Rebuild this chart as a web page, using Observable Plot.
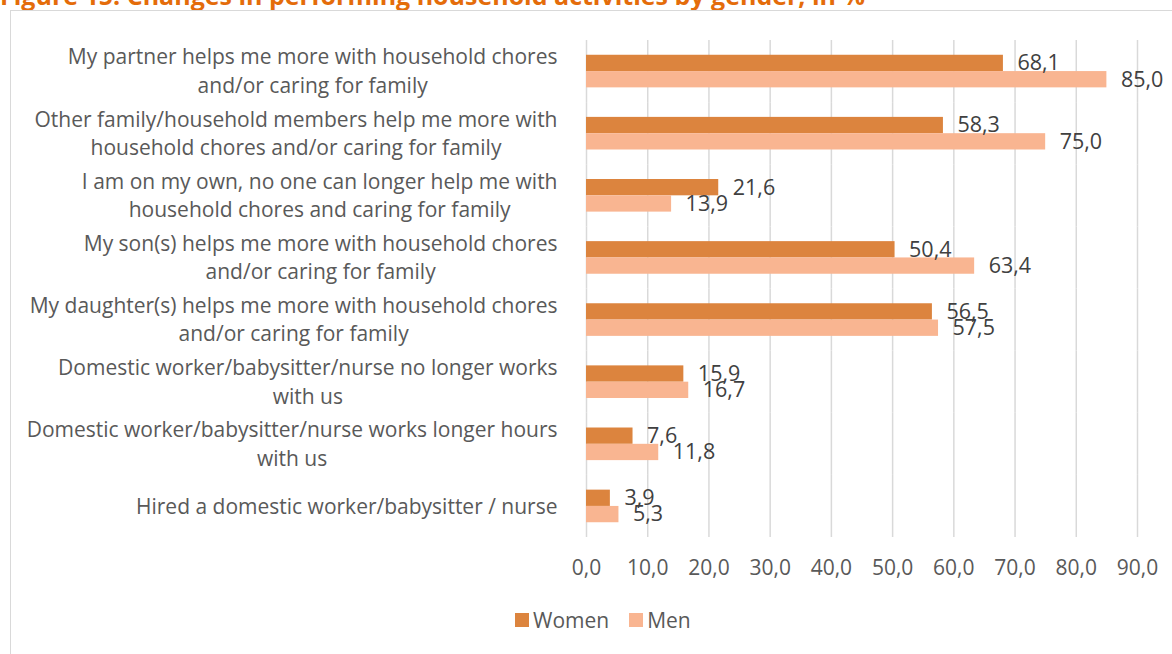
<!DOCTYPE html>
<html>
<head>
<meta charset="utf-8">
<script src="https://cdn.jsdelivr.net/npm/d3@7"></script>
<script src="https://cdn.jsdelivr.net/npm/@observablehq/plot@0.6"></script>
<style>
  html, body { margin: 0; padding: 0; background: #fff; width: 1172px; height: 654px; overflow: hidden; }
  body { position: relative; font-family: 'Open Sans', sans-serif; }
  #title { position: absolute; left: 0; top: -17px; font: bold 25px/25px 'Open Sans', sans-serif; color: #E46C0A; white-space: nowrap; }
  #frame { position: absolute; left: 10px; top: 10px; width: 1300px; height: 800px; border: 1.5px solid #d9d9d9; box-sizing: border-box; }
  #chart { position: absolute; left: 0; top: 0; }
  #legend { position: absolute; left: 515px; top: 606px; }
  #legend .leg-swatches { font-family: 'Open Sans', sans-serif !important; font-size: 21px !important; color: #595959 !important; min-height: 0 !important; margin: 0 !important; }
  #legend .leg-swatch { margin-right: 20px !important; }
  #legend .leg-swatch > svg { margin-right: 4px !important; }
</style>
</head>
<body>
<div id="title">Figure 15: Changes in performing household activities by gender, in %</div>
<div id="frame"></div>
<div id="chart"></div>
<div id="legend"></div>
<script>
const categories = [
  "My partner helps me more with household chores\nand/or caring for family",
  "Other family/household members help me more with\nhousehold chores and/or caring for family",
  "I am on my own, no one can longer help me with\nhousehold chores and caring for family",
  "My son(s) helps me more with household chores\nand/or caring for family",
  "My daughter(s) helps me more with household chores\nand/or caring for family",
  "Domestic worker/babysitter/nurse no longer works\nwith us",
  "Domestic worker/babysitter/nurse works longer hours\nwith us",
  "Hired a domestic worker/babysitter / nurse"
];
const women = [68.1, 58.3, 21.6, 50.4, 56.5, 15.9, 7.6, 3.9];
const men = [85.0, 75.0, 13.9, 63.4, 57.5, 16.7, 11.8, 5.3];
const series = ["Women", "Men"];
const colors = ["#DC843E", "#F9B591"];
const xTicks = [0, 10, 20, 30, 40, 50, 60, 70, 80, 90];

const fmt = v => v.toFixed(1).replace(".", ",");

const data = categories.flatMap((c, i) => [
  {category: c, gender: "Women", value: women[i]},
  {category: c, gender: "Men", value: men[i]}
]);

const chart = Plot.plot({
  width: 1172,
  height: 590,
  marginTop: 40,
  marginBottom: 53,
  marginLeft: 586,
  marginRight: 35,
  style: {fontFamily: "'Open Sans', sans-serif", fontSize: "21px", color: "#595959", background: "transparent", overflow: "visible"},
  x: {domain: [0, 90], label: null},
  y: {domain: series, axis: null, paddingInner: 0, paddingOuter: 0.905, round: false},
  fy: {domain: categories, padding: 0, label: null, round: false},
  color: {domain: series, range: colors},
  marks: [
    Plot.gridX(xTicks, {stroke: "#d9d9d9", strokeOpacity: 1, strokeWidth: 1.5}),
    Plot.barX(data, {x: "value", y: "gender", fy: "category", fill: "gender"}),
    Plot.text(data, {x: "value", y: "gender", fy: "category", text: d => fmt(d.value), textAnchor: "start", dx: 14, fill: "#404040", fontSize: 21.5}),
    Plot.axisX({ticks: xTicks, tickSize: 0, tickPadding: 23, tickFormat: fmt, label: null, fontSize: 21, fill: "#595959"}),
    Plot.axisFy({anchor: "left", tickSize: 0, tickPadding: 29, dy: -2, label: null, fontSize: 21, lineHeight: 1.36, textAnchor: "end", fill: "#595959"})
  ]
});
document.getElementById("chart").appendChild(chart);

// center each wrapped category label block, keeping its widest line's right edge at the axis padding
chart.querySelectorAll('g[aria-label="fy-axis tick label"] text').forEach(t => {
  t.setAttribute("text-anchor", "middle");
  const w = t.getBBox().width;
  const tr = t.getAttribute("transform") || "";
  t.setAttribute("transform", tr + ` translate(${-w / 2},0)`);
});

const leg = Plot.legend({color: {domain: series, range: colors}, swatchSize: 14, className: "leg"});
document.getElementById("legend").appendChild(leg);
</script>
</body>
</html>
